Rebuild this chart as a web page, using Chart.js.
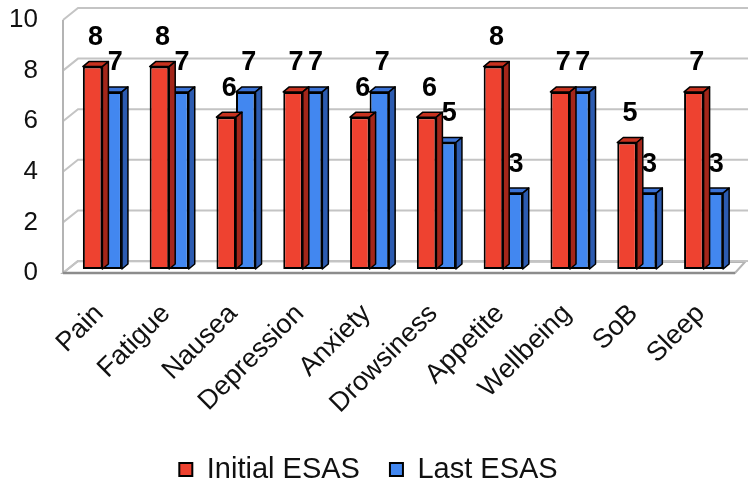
<!DOCTYPE html>
<html>
<head>
<meta charset="utf-8">
<script src="https://cdn.jsdelivr.net/npm/chart.js@4"></script>
<style>
  html, body { margin: 0; padding: 0; background: #ffffff; }
  canvas { display: block; }
</style>
</head>
<body>
<canvas id="esas" width="748" height="480"></canvas>
<script>
// ESAS symptom scores, first and last assessment
const categories = ['Pain', 'Fatigue', 'Nausea', 'Depression', 'Anxiety', 'Drowsiness', 'Appetite', 'Wellbeing', 'SoB', 'Sleep'];
const initialEsas = [8, 8, 6, 7, 6, 6, 8, 7, 5, 7];
const lastEsas = [7, 7, 7, 7, 7, 5, 3, 7, 3, 3];
const yTicks = [0, 2, 4, 6, 8, 10];

const FONT = '"Liberation Sans", Arial, Helvetica, sans-serif';

// pseudo-3D geometry
const BAR_DEPTH = { dx: 6, dy: -5 };
const WALL_BACK = { dx: 9, dy: -8 };
const WALL_FRONT = { dx: -6, dy: 4 };
const PLOT_BOTTOM = 269;
const LAYOUT_BOTTOM = -14;

const faceColors = [
  { top: '#c7321f', side: '#a3261a' },
  { top: '#3a72d6', side: '#2c5bb0' }
];

// back wall, left wall, floor and gridlines
const wallPlugin = {
  id: 'wall3d',
  beforeDatasetsDraw(chart) {
    const { ctx, chartArea: a, scales: { y } } = chart;
    const fl = a.left + WALL_FRONT.dx;
    const bl = a.left + WALL_BACK.dx;
    const y0 = y.getPixelForValue(0);
    ctx.save();
    // floor
    ctx.beginPath();
    ctx.moveTo(fl, y0 + WALL_FRONT.dy);
    ctx.lineTo(a.right - 2, y0 + WALL_FRONT.dy);
    ctx.lineTo(a.right + 8, y0 + WALL_BACK.dy + 1);
    ctx.lineTo(bl, y0 + WALL_BACK.dy);
    ctx.closePath();
    ctx.fillStyle = '#ffffff';
    ctx.fill();
    ctx.lineWidth = 2;
    ctx.strokeStyle = '#b4b4b4';
    ctx.stroke();
    // gridlines on left and back wall
    ctx.strokeStyle = '#c4c4c4';
    ctx.lineWidth = 2;
    yTicks.forEach(v => {
      const py = y.getPixelForValue(v);
      ctx.beginPath();
      ctx.moveTo(fl, py + WALL_FRONT.dy);
      ctx.lineTo(bl, py + WALL_BACK.dy);
      ctx.lineTo(chart.width, py + WALL_BACK.dy);
      ctx.stroke();
    });
    // front edge of the left wall
    ctx.strokeStyle = '#b4b4b4';
    ctx.beginPath();
    ctx.moveTo(fl, y.getPixelForValue(10) + WALL_FRONT.dy);
    ctx.lineTo(fl, y0 + WALL_FRONT.dy);
    ctx.stroke();
    // front edge of the floor
    ctx.strokeStyle = '#8c8c8c';
    ctx.lineWidth = 2.5;
    ctx.beginPath();
    ctx.moveTo(fl, y0 + WALL_FRONT.dy);
    ctx.lineTo(a.right - 2, y0 + WALL_FRONT.dy);
    ctx.stroke();
    ctx.restore();
  }
};

// top and side faces of each bar, drawn right after its dataset
const barDepthPlugin = {
  id: 'barDepth',
  afterDatasetDraw(chart, args) {
    const { ctx } = chart;
    const cols = faceColors[args.index];
    ctx.save();
    ctx.lineWidth = 1.5;
    ctx.strokeStyle = '#000000';
    ctx.lineJoin = 'round';
    args.meta.data.forEach(bar => {
      const { x, y, base, width } = bar.getProps(['x', 'y', 'base', 'width'], true);
      const l = x - width / 2, r = x + width / 2;
      const { dx, dy } = BAR_DEPTH;
      ctx.beginPath();
      ctx.moveTo(l, y);
      ctx.lineTo(r, y);
      ctx.lineTo(r + dx, y + dy);
      ctx.lineTo(l + dx, y + dy);
      ctx.closePath();
      ctx.fillStyle = cols.top;
      ctx.fill();
      ctx.stroke();
      ctx.beginPath();
      ctx.moveTo(r, y);
      ctx.lineTo(r + dx, y + dy);
      ctx.lineTo(r + dx, base + dy);
      ctx.lineTo(r, base);
      ctx.closePath();
      ctx.fillStyle = cols.side;
      ctx.fill();
      ctx.stroke();
    });
    ctx.restore();
  }
};

// value labels above each bar
const valueLabelPlugin = {
  id: 'valueLabels',
  afterDatasetsDraw(chart) {
    const { ctx } = chart;
    ctx.save();
    ctx.font = 'bold 27px ' + FONT;
    ctx.fillStyle = '#000000';
    ctx.textAlign = 'center';
    ctx.textBaseline = 'middle';
    chart.data.datasets.forEach((ds, i) => {
      chart.getDatasetMeta(i).data.forEach((bar, j) => {
        ctx.fillText(String(ds.data[j]), bar.x + 3, bar.y - 29);
      });
    });
    ctx.restore();
  }
};

new Chart(document.getElementById('esas'), {
  type: 'bar',
  data: {
    labels: categories,
    datasets: [
      {
        label: 'Initial ESAS',
        data: initialEsas,
        backgroundColor: '#ee4230',
        borderColor: '#000000',
        borderWidth: 2,
        borderSkipped: false
      },
      {
        label: 'Last ESAS',
        data: lastEsas,
        backgroundColor: '#4287f0',
        borderColor: '#000000',
        borderWidth: 2,
        borderSkipped: false
      }
    ]
  },
  options: {
    responsive: false,
    animation: false,
    devicePixelRatio: 1,
    categoryPercentage: 0.585,
    barPercentage: 1,
    layout: { padding: { top: 16, right: 11, bottom: LAYOUT_BOTTOM, left: 0 } },
    plugins: {
      legend: {
        position: 'bottom',
        labels: {
          boxWidth: 13,
          boxHeight: 13,
          color: '#111111',
          padding: 30,
          font: { size: 29, family: FONT }
        }
      },
      tooltip: { enabled: false }
    },
    scales: {
      x: {
        grid: { display: false, drawTicks: false },
        border: { display: false },
        ticks: {
          autoSkip: false,
          maxRotation: 45,
          minRotation: 45,
          padding: 29,
          labelOffset: -3,
          color: '#111111',
          font: { size: 27, family: FONT }
        },
        afterFit(scale) {
          const legendH = scale.chart.legend ? scale.chart.legend.height : 0;
          scale.height = 480 - LAYOUT_BOTTOM - legendH - PLOT_BOTTOM;
          scale.paddingLeft = 0;
          scale.paddingRight = 0;
        }
      },
      y: {
        min: 0,
        max: 10,
        grid: { display: false, drawTicks: false },
        border: { display: false },
        ticks: {
          stepSize: 2,
          padding: 31,
          labelOffset: 4,
          color: '#111111',
          font: { size: 26, family: FONT }
        },
        afterFit(scale) {
          scale.width = 69;
          scale.paddingTop = 0;
          scale.paddingBottom = 0;
        }
      }
    }
  },
  plugins: [wallPlugin, barDepthPlugin, valueLabelPlugin]
});
</script>
</body>
</html>
